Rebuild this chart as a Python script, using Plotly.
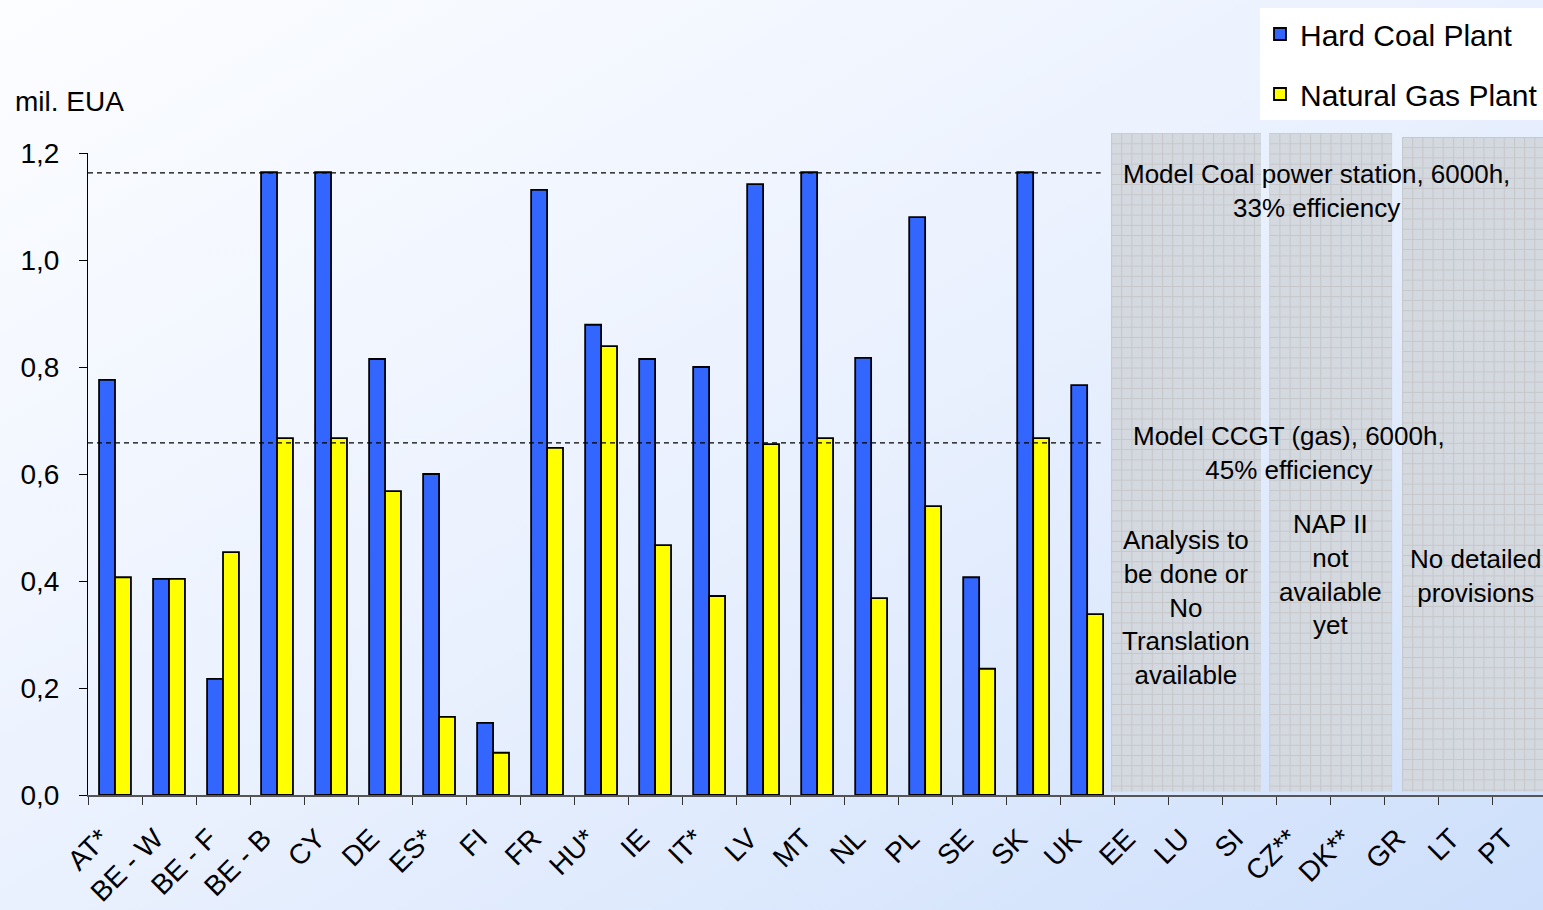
import base64
import plotly.graph_objects as go

# ---------------- data ----------------
countries = ["AT*", "BE - W", "BE - F", "BE - B", "CY", "DE", "ES*", "FI", "FR", "HU*",
             "IE", "IT*", "LV", "MT", "NL", "PL", "SE", "SK", "UK",
             "EE", "LU", "SI", "CZ**", "DK**", "GR", "LT", "PT"]
hard_coal = [0.776, 0.404, 0.217, 1.164, 1.164, 0.815, 0.600, 0.135, 1.131, 0.879,
             0.815, 0.800, 1.142, 1.164, 0.817, 1.080, 0.407, 1.164, 0.766,
             None, None, None, None, None, None, None, None]
natural_gas = [0.407, 0.404, 0.454, 0.667, 0.667, 0.568, 0.146, 0.079, 0.649, 0.839,
               0.467, 0.372, 0.656, 0.667, 0.368, 0.540, 0.236, 0.667, 0.338,
               None, None, None, None, None, None, None, None]
model_coal = 1.163
model_ccgt = 0.658
y_ticks = [0.0, 0.2, 0.4, 0.6, 0.8, 1.0, 1.2]
y_tick_labels = ["0,0", "0,2", "0,4", "0,6", "0,8", "1,0", "1,2"]

# ---------------- layout geometry ----------------
W, H = 1543, 910
ML, MR, MT, MB = 88, 0, 153, 115
PW, PH = W - ML - MR, H - MT - MB
x_range = [-0.5, 26.44]
FONT = "Liberation Sans, Arial, sans-serif"


def xpaper(c):
    return (c - x_range[0]) / (x_range[1] - x_range[0])


def svg_uri(svg):
    return "data:image/svg+xml;base64," + base64.b64encode(svg.encode()).decode()


bg_svg = (
    f"<svg xmlns='http://www.w3.org/2000/svg' width='{W}' height='{H}'>"
    "<defs><linearGradient id='g' x1='0' y1='0' x2='1' y2='1'>"
    "<stop offset='0' stop-color='#fcfdff'/><stop offset='0.5' stop-color='#eaf1fe'/>"
    "<stop offset='1' stop-color='#cddffb'/></linearGradient></defs>"
    f"<rect width='{W}' height='{H}' fill='url(#g)'/></svg>"
)


def grid_svg(wpx, hpx):
    return (
        f"<svg xmlns='http://www.w3.org/2000/svg' width='{wpx}' height='{hpx}'>"
        "<defs><pattern id='p' width='10.2' height='10.2' patternUnits='userSpaceOnUse'>"
        "<rect width='10.2' height='10.2' fill='#d4d8df'/>"
        "<path d='M0 0.5H10.2M0.5 0V10.2' stroke='#c5c7ca' stroke-width='1'/></pattern></defs>"
        f"<rect width='{wpx}' height='{hpx}' fill='url(#p)'/></svg>"
    )


fig = go.Figure()
fig.add_trace(go.Bar(
    x=countries, y=hard_coal, name="Hard Coal Plant", legendgroup="a",
    marker=dict(color="#3366ff", line=dict(color="black", width=1.8)),
))
fig.add_trace(go.Bar(
    x=countries, y=natural_gas, name="Natural Gas Plant", legendgroup="b",
    marker=dict(color="#ffff00", line=dict(color="black", width=1.8)),
))

images = [dict(source=svg_uri(bg_svg), xref="paper", yref="paper",
               x=-ML / PW, y=1 + MT / PH, sizex=W / PW, sizey=H / PH,
               sizing="stretch", layer="below", xanchor="left", yanchor="top")]

# grey "no data" panels (category coords, paper y)
panels = [(18.44, 21.22, 1.031), (21.37, 23.65, 1.031), (23.83, 26.6, 1.025)]
for c0, c1, ytop in panels:
    x0, x1 = xpaper(c0), xpaper(c1)
    y0 = 0.005
    wpx = int(round((x1 - x0) * PW))
    hpx = int(round((ytop - y0) * PH))
    images.append(dict(source=svg_uri(grid_svg(wpx, hpx)), xref="paper", yref="paper",
                       x=x0, y=ytop, sizex=x1 - x0, sizey=ytop - y0,
                       sizing="stretch", layer="below", xanchor="left", yanchor="top"))

shapes = [
    dict(type="line", xref="x", yref="y", x0=-0.5, x1=18.25, y0=model_coal, y1=model_coal,
         line=dict(color="black", width=1.2, dash="5px,4px")),
    dict(type="line", xref="x", yref="y", x0=-0.5, x1=18.25, y0=model_ccgt, y1=model_ccgt,
         line=dict(color="black", width=1.2, dash="5px,4px")),
]

tf = dict(family=FONT, size=26, color="black")
annotations = [
    dict(text="mil. EUA", xref="paper", yref="paper", x=(13 - ML) / PW, y=(795 - 101) / PH,
         xanchor="left", yanchor="middle", showarrow=False,
         font=dict(family=FONT, size=28, color="black")),
    dict(text="Model Coal power station, 6000h,<br>33% efficiency", x=22.24, y=1.129,
         xref="x", yref="y", showarrow=False, font=tf, align="center"),
    dict(text="Model CCGT (gas), 6000h,<br>45% efficiency", x=21.74, y=0.639,
         xref="x", yref="y", showarrow=False, font=tf, align="center"),
    dict(text="Analysis to<br>be done or<br>No<br>Translation<br>available", x=19.83, y=0.350,
         xref="x", yref="y", showarrow=False, font=tf, align="center"),
    dict(text="NAP II<br>not<br>available<br>yet", x=22.5, y=0.413,
         xref="x", yref="y", showarrow=False, font=tf, align="center"),
    dict(text="No detailed<br>provisions", x=25.2, y=0.409,
         xref="x", yref="y", showarrow=False, font=tf, align="center"),
]

fig.update_layout(
    width=W, height=H,
    margin=dict(l=ML, r=MR, t=MT, b=MB, pad=0),
    paper_bgcolor="#eef4fe", plot_bgcolor="rgba(0,0,0,0)",
    barmode="group", bargap=0.41, bargroupgap=0,
    font=dict(family=FONT, size=26, color="black"),
    separators=",.",
    images=images, shapes=shapes, annotations=annotations,
    legend=dict(x=1, xanchor="right", y=(795 - 8) / PH, yanchor="top",
                bgcolor="white", borderwidth=0, font=dict(family=FONT, size=30),
                tracegroupgap=18, traceorder="grouped"),
    showlegend=True,
)
fig.update_xaxes(
    type="category", range=x_range, tickson="boundaries",
    ticks="outside", ticklen=8, tickcolor="#333", tickwidth=1,
    showline=True, linecolor="#555", linewidth=2,
    tickangle=-45, tickfont=dict(family=FONT, size=28),
    ticklabelstandoff=14, ticklabelshift=-14,
    showgrid=False, zeroline=False,
)
fig.update_yaxes(
    range=[0, 1.2], tickvals=y_ticks, ticktext=y_tick_labels,
    ticks="outside", ticklen=8, tickcolor="black", tickwidth=1,
    showline=True, linecolor="black", linewidth=1,
    tickfont=dict(family=FONT, size=28), ticklabelstandoff=14,
    showgrid=False, zeroline=False,
)

fig.write_html("out.html", config={"displayModeBar": False},
               post_script="document.body.style.margin='0';")
